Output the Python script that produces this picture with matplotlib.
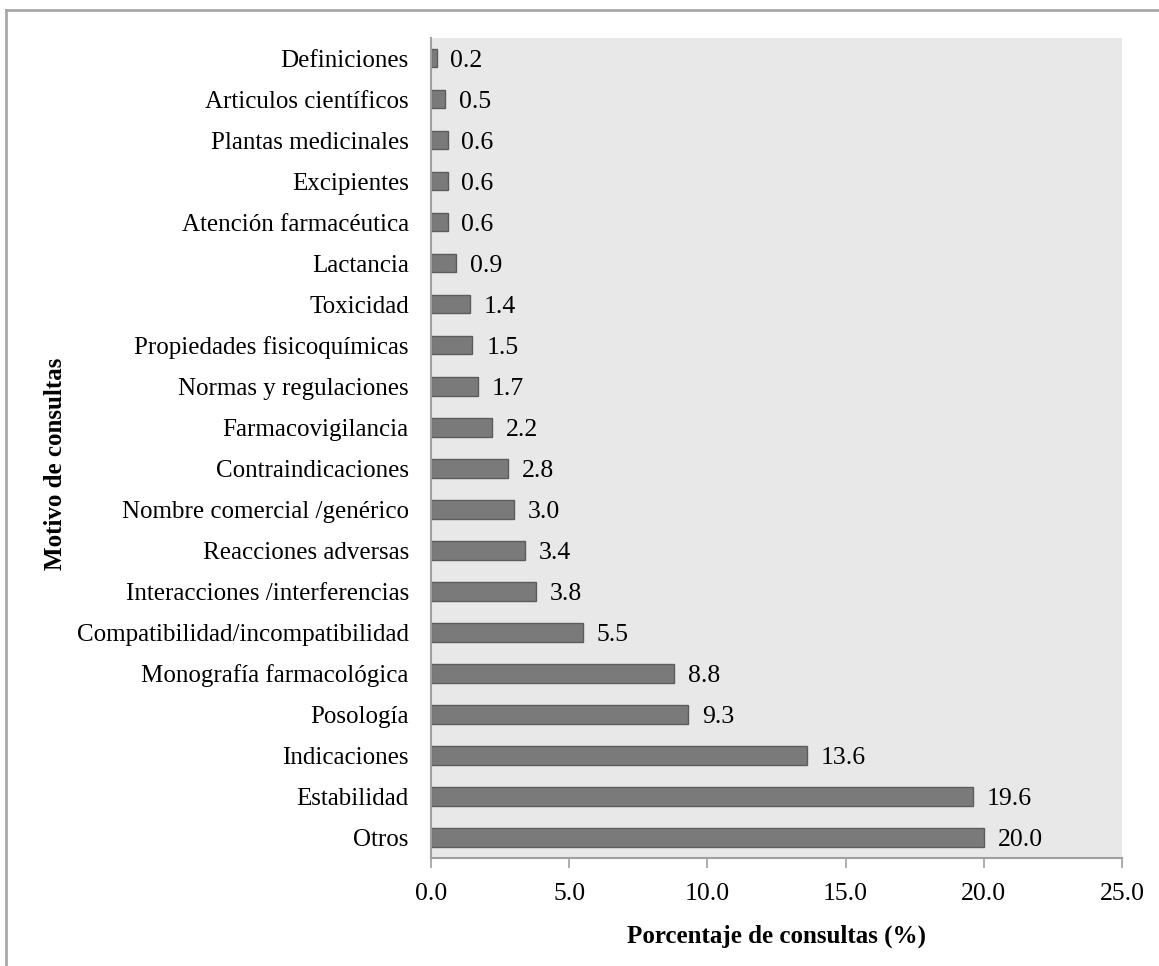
import matplotlib
matplotlib.use('Agg')
import matplotlib.pyplot as plt
import numpy as np

plt.rcParams['font.family'] = ['Liberation Serif', 'DejaVu Serif']

# motivos de consulta, de abajo (Otros) hacia arriba
motivos = ['Otros', 'Estabilidad', 'Indicaciones', 'Posología',
           'Monografía farmacológica', 'Compatibilidad/incompatibilidad',
           'Interacciones /interferencias', 'Reacciones adversas',
           'Nombre comercial /genérico', 'Contraindicaciones',
           'Farmacovigilancia', 'Normas y regulaciones',
           'Propiedades fisicoquímicas', 'Toxicidad', 'Lactancia',
           'Atención farmacéutica', 'Excipientes', 'Plantas medicinales',
           'Articulos científicos', 'Definiciones']
porcentaje = [20.0, 19.6, 13.6, 9.3, 8.8, 5.5, 3.8, 3.4, 3.0, 2.8,
              2.2, 1.7, 1.5, 1.4, 0.9, 0.6, 0.6, 0.6, 0.5, 0.2]
xticks = [0, 5, 10, 15, 20, 25]

FS = 18.5

fig = plt.figure(figsize=(11.59, 9.66), dpi=100)
ax = fig.add_axes([0.3719, 0.1118, 0.5962, 0.8489])
ax.set_facecolor('#e8e8e8')

y = np.arange(len(motivos))
ax.barh(y, porcentaje, height=0.44, color='#7a7a7a', edgecolor='#5c5c5c', linewidth=1)

# valor al final de cada barra
for yi, v in zip(y, porcentaje):
    ax.text(v + 0.5, yi - 0.05, f'{v:.1f}', va='center', ha='left', fontsize=FS)

ax.set_xlim(0, 25)
ax.set_ylim(-0.5, len(motivos) - 0.5)
ax.set_yticks(y)
ax.set_yticklabels(motivos, fontsize=18)
ax.set_xticks(xticks)
ax.set_xticklabels([f'{t:.1f}' for t in xticks], fontsize=FS)
ax.tick_params(axis='y', length=0, pad=16)
ax.tick_params(axis='x', direction='out', length=7, width=1.2, color='#a0a0a0', pad=11)

for s in ['top', 'right']:
    ax.spines[s].set_visible(False)
for s in ['left', 'bottom']:
    ax.spines[s].set_color('#a0a0a0')
    ax.spines[s].set_linewidth(1.5)

ax.set_xlabel('Porcentaje de consultas (%)', fontsize=18, fontweight='bold', labelpad=14)
fig.text(0.048, 0.52, 'Motivo de consultas', rotation=90, fontsize=18,
         fontweight='bold', ha='center', va='center')

# marco exterior (solo arriba e izquierda)
fig.add_artist(plt.Line2D([0.0052, 1.0], [0.9896, 0.9896], color='#a8a8a8', lw=2,
                          transform=fig.transFigure))
fig.add_artist(plt.Line2D([0.0052, 0.0052], [0.0, 0.9896], color='#a8a8a8', lw=2,
                          transform=fig.transFigure))

fig.savefig('out.png', dpi=100)
